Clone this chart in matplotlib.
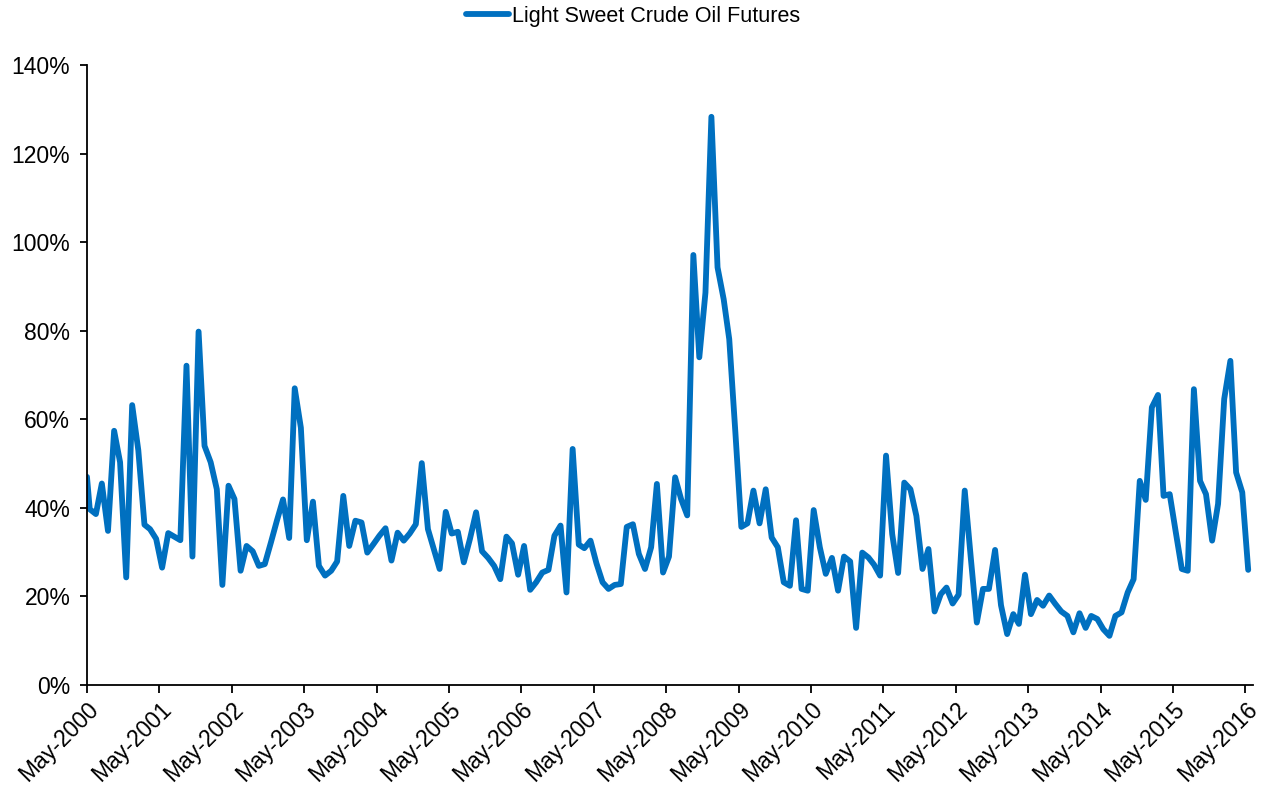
import numpy as np
import pandas as pd
import matplotlib
matplotlib.use("Agg")
import matplotlib.pyplot as plt
import matplotlib.dates as mdates
from matplotlib.ticker import PercentFormatter

# monthly implied volatility readings, May-2000 .. May-2016 (percent)
first_date = "2000-05-01"
first_value = 47.0
monthly_values = [
    39.7, 38.6, 45.5, 34.8, 57.4, 50.3, 24.3, 63.2, 53.0, 36.2,
    35.2, 33.0, 26.5, 34.3, 33.5, 32.7, 72.1, 29.0, 79.8, 54.0,
    50.3, 44.2, 22.6, 45.0, 42.0, 25.8, 31.4, 30.2, 26.9, 27.3,
    32.2, 37.1, 41.9, 33.2, 67.0, 58.1, 32.7, 41.4, 26.9, 24.7,
    25.8, 27.9, 42.7, 31.4, 37.1, 36.7, 29.9, 31.8, 33.7, 35.4,
    28.1, 34.4, 32.6, 34.2, 36.3, 50.1, 35.2, 30.5, 26.2, 39.1,
    34.2, 34.6, 27.7, 33.0, 39.0, 30.2, 28.7, 26.9, 23.9, 33.5,
    32.0, 24.9, 31.4, 21.5, 23.2, 25.4, 26.0, 33.7, 36.0, 20.9,
    53.3, 31.7, 30.9, 32.6, 27.5, 23.2, 21.7, 22.6, 22.8, 35.7,
    36.3, 29.6, 26.2, 31.1, 45.4, 25.4, 29.0, 46.9, 42.0, 38.3,
    97.1, 74.0, 88.6, 128.3, 94.3, 87.1, 78.1, 57.0, 35.7, 36.5,
    43.9, 36.5, 44.2, 33.3, 31.1, 23.2, 22.4, 37.2, 21.7, 21.3,
    39.5, 31.1, 25.1, 28.7, 21.3, 29.0, 27.9, 12.9, 29.9, 28.8,
    27.2, 24.7, 51.8, 34.1, 25.3, 45.7, 44.2, 38.2, 26.2, 30.7,
    16.6, 20.5, 22.0, 18.4, 20.4, 43.9, 29.0, 14.1, 21.7, 21.7,
    30.5, 18.0, 11.5, 16.0, 13.8, 24.9, 16.0, 19.2, 17.9, 20.2,
    18.3, 16.6, 15.6, 11.9, 16.2, 12.9, 15.6, 14.9, 12.6, 11.1,
    15.6, 16.4, 20.9, 23.9, 46.1, 41.8, 62.7, 65.5, 42.7, 43.1,
    34.7, 26.2, 25.8, 66.8, 46.1, 43.1, 32.6, 40.9, 64.6, 73.2,
    48.0, 43.5, 26.0,
]
series_label = "Light Sweet Crude Oil Futures"

dates = [pd.Timestamp(first_date)] + list(
    pd.date_range("2000-05-01", periods=len(monthly_values), freq="MS") + pd.Timedelta(days=14)
)
values = np.array([first_value] + monthly_values) / 100.0

plt.rcParams["font.family"] = ["Liberation Sans", "DejaVu Sans"]
plt.rcParams["font.size"] = 16.5

fig = plt.figure(figsize=(12.66, 7.88), dpi=100)
ax = fig.add_axes([0.0687, 0.1307, 0.921, 0.7868])

ax.plot(dates, values, color="#0070C0", linewidth=4.2, label=series_label,
        solid_joinstyle="round", solid_capstyle="round")

ax.set_ylim(0, 1.4)
ax.set_yticks(np.arange(0, 1.41, 0.2))
ax.yaxis.set_major_formatter(PercentFormatter(1.0, decimals=0))
ax.set_xlim(pd.Timestamp("2000-05-01"), pd.Timestamp("2016-06-08"))
ax.xaxis.set_major_locator(mdates.MonthLocator(bymonth=5, bymonthday=1))
ax.xaxis.set_major_formatter(mdates.DateFormatter("%b-%Y"))

for s in ["top", "right"]:
    ax.spines[s].set_visible(False)
for s in ["left", "bottom"]:
    ax.spines[s].set_linewidth(1.3)
ax.tick_params(axis="y", length=5, width=1.3, pad=7)
ax.tick_params(axis="x", length=6, width=1.3, pad=3)
for lab in ax.get_xticklabels():
    lab.set_rotation(45)
    lab.set_ha("right")
    lab.set_va("top")
    lab.set_rotation_mode("anchor")

fig.legend(loc="upper center", bbox_to_anchor=(0.5, 1.017), frameon=False,
           fontsize=15.5, handlelength=2.0, handletextpad=0.1)

fig.savefig("out.png", dpi=100)
